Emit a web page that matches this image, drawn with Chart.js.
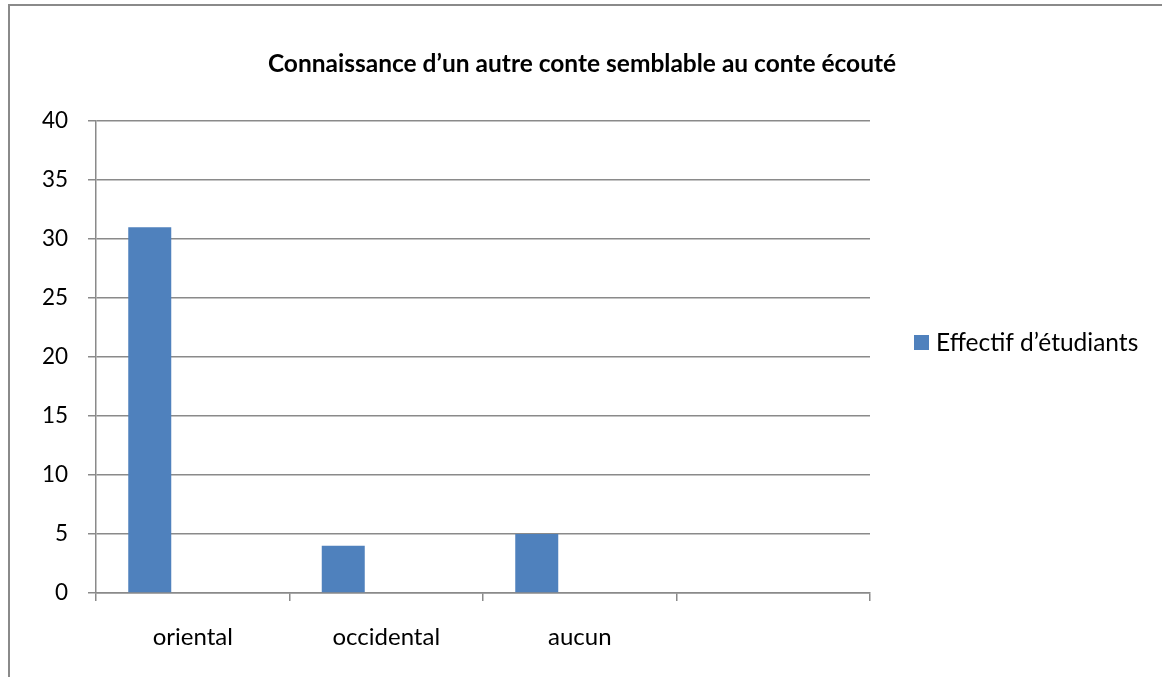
<!DOCTYPE html>
<html>
<head>
<meta charset="utf-8">
<script src="https://cdn.jsdelivr.net/npm/chart.js@4/dist/chart.umd.min.js"></script>
<style>
  body { margin: 0; background: #fff; }
  #frame { position: absolute; left: 8px; top: 4px; width: 1200px; height: 720px;
           border-left: 2px solid #8a8a8a; border-top: 2px solid #8a8a8a; }
  #wrap { position: absolute; left: 0; top: 0; width: 1162px; height: 677px; }
</style>
</head>
<body>
<div id="frame"></div>
<div id="wrap"><canvas id="chart"></canvas></div>
<script>
const categories = ["oriental", "occidental", "aucun", ""];
const effectif = [31, 4, 5, null];
const seriesLabel = "Effectif d’étudiants";
const titleText = "Connaissance d’un autre conte semblable au conte écouté";
const yMin = 0;
const yMax = 40;
const yStep = 5;

const barColor = "#4f81bd";
const lineColor = "#8a8a8a";
const fontFamily = "Lato, 'Open Sans', sans-serif";

Chart.defaults.font.family = fontFamily;
Chart.defaults.color = "#000";

// title centred on the whole picture and legend on the right, like the Excel original
const sideText = {
  id: "sideText",
  afterDraw(chart) {
    const c = chart.ctx;
    const area = chart.chartArea;
    const ds = chart.data.datasets[0];
    c.save();
    c.fillStyle = "#000";
    c.font = "bold 24.5px " + fontFamily;
    c.textAlign = "center";
    c.textBaseline = "alphabetic";
    c.fillText(titleText, chart.width / 2 + 1, 72);

    const x = area.right + 44;
    const y = 343;
    c.fillStyle = ds.backgroundColor;
    c.fillRect(x, y - 8, 15, 15);
    c.fillStyle = "#000";
    c.font = "24.5px " + fontFamily;
    c.textAlign = "left";
    c.textBaseline = "middle";
    c.fillText(ds.label, x + 22, y);
    c.restore();
  }
};

new Chart(document.getElementById("chart"), {
  type: "bar",
  data: {
    labels: categories,
    datasets: [
      { label: seriesLabel, data: effectif, backgroundColor: barColor },
      { label: "", data: [], backgroundColor: barColor },
      { label: "", data: [], backgroundColor: barColor }
    ]
  },
  options: {
    responsive: true,
    maintainAspectRatio: false,
    animation: false,
    datasets: { bar: { categoryPercentage: 3 / 4.5, barPercentage: 1 } },
    layout: { padding: { left: 0, right: 292, top: 121, bottom: 0 } },
    plugins: {
      legend: { display: false },
      tooltip: { enabled: false },
      title: { display: false }
    },
    scales: {
      x: {
        afterFit: (s) => { s.height = 84; },
        grid: { drawOnChartArea: false, drawTicks: true, tickLength: 8, color: lineColor, lineWidth: 1.5, offset: true },
        border: { display: true, color: lineColor, width: 1.5 },
        ticks: { font: { size: 24 }, padding: 22, color: "#000" }
      },
      y: {
        min: yMin,
        max: yMax,
        afterFit: (s) => { s.width = 96; },
        grid: { color: lineColor, lineWidth: 1.5, tickLength: 8 },
        border: { display: true, color: lineColor, width: 1.5 },
        ticks: { stepSize: yStep, font: { size: 22.5 }, padding: 20, color: "#000" }
      }
    }
  },
  plugins: [sideText]
});
</script>
</body>
</html>
